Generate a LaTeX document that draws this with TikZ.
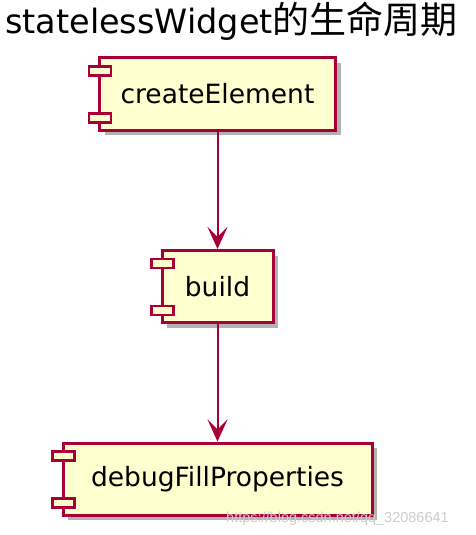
\documentclass[tikz,border=0pt]{standalone}
\usepackage{fontspec}
\setmainfont{DejaVu Sans}
\newfontfamily\cjkfont{Noto Sans CJK SC}
\newfontfamily\wmfont{Liberation Sans}
\usetikzlibrary{arrows.meta,shadows,calc}
\definecolor{umlfill}{HTML}{FEFECE}
\definecolor{umlline}{HTML}{A80036}
\tikzset{
  comp/.style={draw=umlline, fill=umlfill, line width=3pt, minimum height=72pt, inner sep=0pt,
    font=\fontsize{26.5}{30}\selectfont,
    drop shadow={shadow xshift=5pt, shadow yshift=-5pt, fill=black, opacity=0.3}},
  port/.style={draw=umlline, fill=umlfill, line width=2.5pt},
  conn/.style={draw=umlline, line width=2pt, -{Stealth[length=22pt,width=20pt,inset=10pt]}},
}
\begin{document}
\begin{tikzpicture}[x=1pt,y=-1pt]
\useasboundingbox (0,0) rectangle (476,535);
\node[anchor=base west, inner sep=0pt] (title) at (5,34)
  {{\fontsize{33.5}{38}\selectfont statelessWidget}{\cjkfont\fontsize{37}{42}\selectfont 的生命周期}};
\node[comp, minimum width=236pt] (b1) at (217.5,94) {createElement};
\node[comp, minimum width=111pt] (b2) at (217.5,286.5) {build};
\node[comp, minimum width=309pt] (b3) at (217.5,479) {debugFillProperties};
\foreach \n in {b1,b2,b3}{
  \draw[port] ($(\n.north west)+(-9,10)$) rectangle ++(22,9);
  \draw[port] ($(\n.south west)+(-9,-18)$) rectangle ++(22,9);
}
\draw[conn] (b1.south) -- (b2.north);
\draw[conn] (b2.south) -- (b3.north);
\node[anchor=base west, inner sep=0pt, text=gray!40, font=\wmfont\fontsize{14.5}{16}\selectfont] (wm) at (226,522) {https://blog.csdn.net/qq\_32086641};
\end{tikzpicture}
\end{document}
